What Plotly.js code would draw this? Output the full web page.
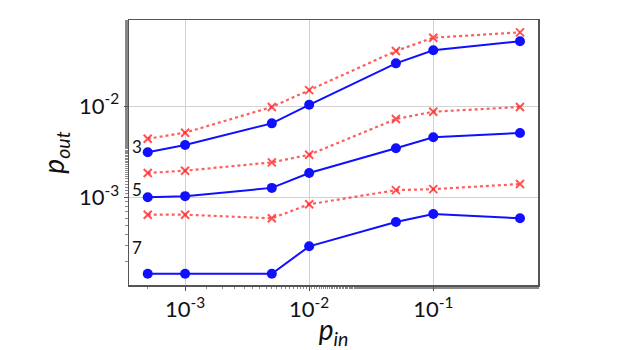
<!DOCTYPE html>
<html>
<head>
<meta charset="utf-8">
<script src="https://cdn.plot.ly/plotly-3.0.1.min.js"></script>
<style>
  html, body { margin: 0; padding: 0; background: #fff; }
  #chart { width: 622px; height: 350px; }
</style>
</head>
<body>
<div id="chart"></div>
<script>
// p_in values shared by all series
const pIn = [5e-4, 1e-3, 5e-3, 1e-2, 5e-2, 1e-1, 5e-1];

// blue solid (circles) and red dotted (crosses) for each label
const blue3 = [3.13e-3, 3.76e-3, 6.47e-3, 1.03e-2, 2.92e-2, 4.05e-2, 5.08e-2];
const red3  = [4.40e-3, 5.12e-3, 9.75e-3, 1.49e-2, 3.98e-2, 5.56e-2, 6.36e-2];
const blue5 = [1.01e-3, 1.04e-3, 1.28e-3, 1.86e-3, 3.46e-3, 4.56e-3, 5.08e-3];
const red5  = [1.86e-3, 1.97e-3, 2.43e-3, 2.94e-3, 7.21e-3, 8.67e-3, 9.75e-3];
const blue7 = [1.48e-4, 1.48e-4, 1.48e-4, 2.95e-4, 5.43e-4, 6.64e-4, 5.96e-4];
const red7  = [6.53e-4, 6.53e-4, 5.96e-4, 8.47e-4, 1.21e-3, 1.24e-3, 1.41e-3];

const groupLabels = ["3", "5", "7"];
const labelY = [0.521, 0.362, 0.140];

const xTickVals = [1e-3, 1e-2, 1e-1];
const xTickText = ["10<sup>-3</sup>", "10<sup>-2</sup>", "10<sup>-1</sup>"];
const yTickVals = [1e-3, 1e-2];
const yTickText = ["10<sup>-3</sup>", "10<sup>-2</sup>"];

const FONT = "Lato, 'Open Sans', sans-serif";

const blueStyle = {
  type: "scatter", mode: "lines+markers",
  line: { color: "#1010ff", width: 2 },
  marker: { symbol: "circle", size: 10, color: "#1010ff" },
  showlegend: false, hoverinfo: "skip"
};
const redStyle = {
  type: "scatter", mode: "lines+markers",
  line: { color: "rgba(255,40,40,0.75)", width: 2.2, dash: "dot" },
  marker: { symbol: "x-thin-open", size: 8, color: "rgba(255,40,40,0.8)",
            line: { width: 2, color: "rgba(255,40,40,0.8)" } },
  showlegend: false, hoverinfo: "skip"
};

const traces = [red3, red5, red7].map((ys) => Object.assign({}, redStyle, { x: pIn, y: ys }))
  .concat([blue3, blue5, blue7].map((ys) => Object.assign({}, blueStyle, { x: pIn, y: ys })));

const axisCommon = {
  type: "log",
  tickmode: "array",
  showline: true, mirror: true, linecolor: "#555", linewidth: 1.5,
  showgrid: true, gridcolor: "#d2d2d2", gridwidth: 1,
  ticks: "outside", ticklen: 4, tickcolor: "#555",
  tickfont: { family: FONT, size: 22, color: "#111" },
  minor: { ticks: "outside", ticklen: 2.5, tickcolor: "#888", showgrid: false },
  zeroline: false
};

const layout = {
  width: 622, height: 350,
  margin: { l: 129, r: 84, t: 20, b: 65 },
  paper_bgcolor: "#fff", plot_bgcolor: "#fff",
  xaxis: Object.assign({}, axisCommon, {
    range: [-3.452, -0.156],
    tickvals: xTickVals, ticktext: xTickText,
    title: { text: "<i>p</i><sub><i>in</i></sub>", standoff: 2,
             font: { family: FONT, size: 28, color: "#111" } }
  }),
  yaxis: Object.assign({}, axisCommon, {
    range: [-3.952, -1.062],
    tickvals: yTickVals, ticktext: yTickText,
    title: { text: "<i>p</i><sub><i>out</i></sub>", standoff: 6,
             font: { family: FONT, size: 28, color: "#111" } }
  }),
  annotations: groupLabels.map((t, i) => ({
    text: t, xref: "paper", yref: "paper", x: 0.02, y: labelY[i],
    showarrow: false, xanchor: "center", yanchor: "middle",
    font: { family: FONT, size: 17, color: "#111" }
  }))
};

Plotly.newPlot("chart", traces, layout, { displayModeBar: false, staticPlot: true });
</script>
</body>
</html>
